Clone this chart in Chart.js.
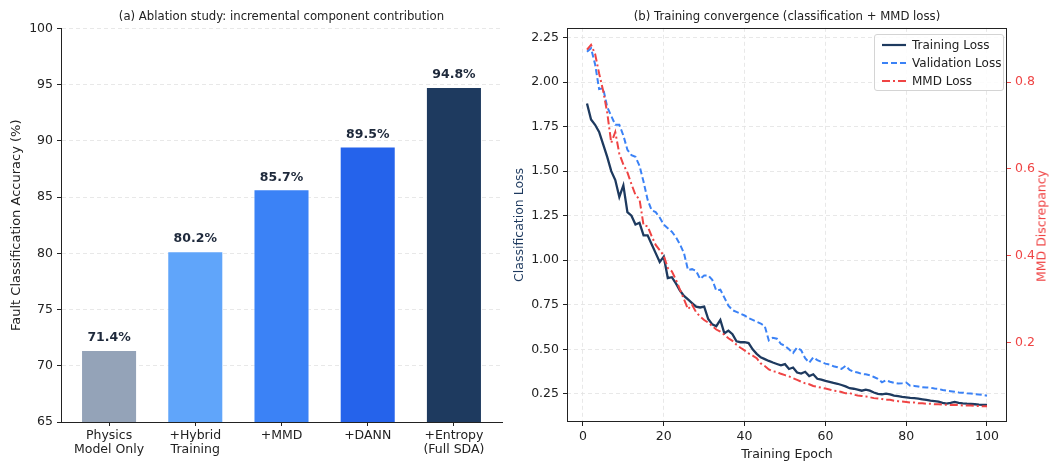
<!DOCTYPE html>
<html>
<head>
<meta charset="utf-8">
<script src="https://cdn.jsdelivr.net/npm/chart.js@4.4.1/dist/chart.umd.min.js"></script>
<style>
  html, body { margin: 0; padding: 0; background: #ffffff; }
  #wrap { position: relative; width: 1052px; height: 462px; overflow: hidden; font-family: 'DejaVu Sans', sans-serif; }
  #c1 { position: absolute; left: 0; top: 0; }
  #c2 { position: absolute; left: 505px; top: 0; }
  #legend { position: absolute; left: 874px; top: 34px; width: 130px; height: 57px; box-sizing: border-box;
            border: 1px solid #d4d4d4; border-radius: 3px; background: rgba(255,255,255,0.85); }
  .item { position: absolute; left: 7px; height: 16px; display: flex; align-items: center; font-size: 12px; color: #222; white-space: nowrap; }
  .item svg { margin-right: 6px; }
  #mmdTitle { position: absolute; left: 1041px; top: 226px; transform: translate(-50%, -50%) rotate(-90deg);
              font-size: 12.5px; color: #ef4444; white-space: nowrap; line-height: 15px; }
</style>
</head>
<body>
<div id="wrap">
  <canvas id="c1" width="505" height="462"></canvas>
  <canvas id="c2" width="547" height="462"></canvas>
  <div id="legend">
    <div class="item" style="top:2px"><svg width="24" height="6"><line x1="0" y1="3" x2="24" y2="3" stroke="#1e3a5f" stroke-width="2.2"/></svg>Training Loss</div>
    <div class="item" style="top:20px"><svg width="24" height="6"><line x1="0" y1="3" x2="24" y2="3" stroke="#3b82f6" stroke-width="2" stroke-dasharray="6,3"/></svg>Validation Loss</div>
    <div class="item" style="top:38px"><svg width="24" height="6"><line x1="0" y1="3" x2="24" y2="3" stroke="#ef4444" stroke-width="2" stroke-dasharray="8,3,2,3"/></svg>MMD Loss</div>
  </div>
  <div id="mmdTitle">MMD Discrepancy</div>
</div>
<script>
// ---------- Data: panel (a) ----------
const ablationLabels = [["Physics", "Model Only"], ["+Hybrid", "Training"], ["+MMD"], ["+DANN"], ["+Entropy", "(Full SDA)"]];
const ablationAccuracy = [71.4, 80.2, 85.7, 89.5, 94.8];
const ablationColors = ["#94a3b8", "#60a5fa", "#3b82f6", "#2563eb", "#1e3a5f"];
const accTicks = [65, 70, 75, 80, 85, 90, 95, 100];

// ---------- Data: panel (b) ----------
const epochs = [1,2,3,4,5,6,7,8,9,10,11,12,13,14,15,16,17,18,19,20,
  21,22,23,24,25,26,27,28,29,30,31,32,33,34,35,36,37,38,39,40,
  41,42,43,44,45,46,47,48,49,50,51,52,53,54,55,56,57,58,59,60,
  61,62,63,64,65,66,67,68,69,70,71,72,73,74,75,76,77,78,79,80,
  81,82,83,84,85,86,87,88,89,90,91,92,93,94,95,96,97,98,99,100];
const trainLoss = [
  1.88,1.79,1.76,1.72,1.65,1.58,1.50,1.45,1.355,1.42,
  1.27,1.25,1.20,1.21,1.14,1.14,1.09,1.04,0.99,1.02,
  0.90,0.905,0.87,0.83,0.80,0.78,0.76,0.74,0.735,0.74,
  0.67,0.64,0.63,0.665,0.59,0.605,0.585,0.545,0.54,0.54,
  0.535,0.50,0.475,0.455,0.445,0.435,0.426,0.418,0.41,0.417,
  0.39,0.398,0.37,0.364,0.374,0.35,0.36,0.335,0.33,0.323,
  0.318,0.312,0.307,0.30,0.292,0.282,0.279,0.274,0.268,0.274,
  0.268,0.258,0.25,0.248,0.252,0.247,0.24,0.237,0.233,0.231,
  0.228,0.226,0.224,0.22,0.216,0.212,0.21,0.207,0.20,0.196,
  0.20,0.205,0.20,0.197,0.195,0.194,0.192,0.19,0.189,0.188];
const valLoss = [
  2.17,2.19,2.10,1.96,1.965,1.86,1.81,1.76,1.76,1.70,
  1.62,1.59,1.58,1.53,1.44,1.34,1.28,1.27,1.24,1.20,
  1.18,1.16,1.13,1.09,1.04,0.945,0.95,0.94,0.895,0.915,
  0.915,0.89,0.83,0.835,0.79,0.745,0.72,0.71,0.70,0.69,
  0.675,0.665,0.655,0.645,0.63,0.55,0.565,0.56,0.53,0.52,
  0.50,0.48,0.51,0.495,0.45,0.425,0.455,0.44,0.43,0.42,
  0.415,0.405,0.40,0.39,0.408,0.385,0.375,0.37,0.362,0.36,
  0.355,0.345,0.335,0.315,0.327,0.318,0.312,0.308,0.31,0.314,
  0.296,0.295,0.292,0.287,0.286,0.285,0.28,0.278,0.272,0.268,
  0.265,0.262,0.258,0.257,0.253,0.252,0.249,0.247,0.244,0.24];
const mmdLoss = [
  0.875,0.886,0.865,0.82,0.78,0.73,0.66,0.685,0.635,0.61,
  0.592,0.565,0.54,0.53,0.47,0.468,0.445,0.425,0.413,0.40,
  0.372,0.364,0.345,0.322,0.30,0.277,0.287,0.27,0.26,0.252,
  0.246,0.238,0.23,0.225,0.218,0.21,0.204,0.195,0.188,0.182,
  0.175,0.17,0.164,0.152,0.146,0.138,0.134,0.132,0.128,0.125,
  0.122,0.118,0.114,0.11,0.106,0.104,0.10,0.098,0.096,0.094,
  0.092,0.089,0.088,0.086,0.083,0.084,0.08,0.078,0.077,0.076,
  0.074,0.072,0.071,0.07,0.068,0.068,0.066,0.065,0.064,0.063,
  0.062,0.062,0.06,0.06,0.059,0.059,0.058,0.058,0.057,0.057,
  0.056,0.057,0.056,0.055,0.055,0.055,0.054,0.054,0.053,0.053];
const epochTicks = [0, 20, 40, 60, 80, 100];
const lossTicks = [0.25, 0.50, 0.75, 1.00, 1.25, 1.50, 1.75, 2.00, 2.25];
const mmdTicks = [0.2, 0.4, 0.6, 0.8];

// ---------- Styling ----------
const FONT = "'DejaVu Sans', sans-serif";
const TXT = '#222222';
const GRIDC = '#e2e2e2';
const MMDC = '#ef4444';
Chart.defaults.font.family = FONT;
Chart.defaults.color = TXT;

function setTicks(vals) { return (scale) => { scale.ticks = vals.map(v => ({ value: v })); }; }

// value labels above bars
const barLabels = {
  id: 'barLabels',
  afterDatasetsDraw(chart) {
    const ctx = chart.ctx;
    const meta = chart.getDatasetMeta(0);
    ctx.save();
    ctx.font = "bold 12.5px " + FONT;
    ctx.fillStyle = '#1e293b';
    ctx.textAlign = 'center';
    ctx.textBaseline = 'middle';
    meta.data.forEach((bar, i) => {
      ctx.fillText(ablationAccuracy[i].toFixed(1) + '%', bar.x, bar.y - 12);
    });
    ctx.restore();
  }
};

// ---------- Panel (a) ----------
new Chart(document.getElementById('c1'), {
  type: 'bar',
  data: {
    datasets: [{
      data: ablationAccuracy.map((v, i) => ({ x: i, y: v })),
      backgroundColor: ablationColors,
      borderColor: 'rgba(255,255,255,0.9)',
      borderWidth: 1,
      barPercentage: 0.65,
      categoryPercentage: 1.0
    }]
  },
  options: {
    responsive: false,
    animation: false,
    layout: { padding: { right: 3 } },
    plugins: {
      legend: { display: false },
      tooltip: { enabled: false },
      title: {
        display: true,
        fullSize: false,
        text: '(a) Ablation study: incremental component contribution',
        font: { size: 11.7, weight: 'normal', family: FONT },
        color: TXT,
        padding: { top: 10, bottom: 4.5 }
      }
    },
    scales: {
      x: {
        type: 'linear',
        min: -0.5575, max: 4.5575,
        offset: false,
        afterBuildTicks: setTicks([0, 1, 2, 3, 4]),
        afterFit: (s) => { s.height = 40; },
        grid: { offset: false, drawOnChartArea: false, drawTicks: true, tickLength: 4, tickColor: TXT, tickWidth: 1, tickBorderDash: [] },
        border: { display: true, color: TXT, width: 1 },
        ticks: {
          autoSkip: false, maxRotation: 0, padding: 3,
          font: { size: 12.5, family: FONT, lineHeight: 1.12 }, color: TXT,
          callback: (v) => ablationLabels[v]
        }
      },
      y: {
        min: 65, max: 100,
        afterBuildTicks: setTicks(accTicks),
        afterFit: (s) => { s.width = 61; },
        grid: { color: GRIDC, lineWidth: 0.8, drawTicks: true, tickLength: 4, tickColor: TXT, tickWidth: 1, tickBorderDash: [] },
        border: { display: true, color: TXT, width: 1, dash: [4, 3] },
        ticks: { padding: 4, font: { size: 12.5, family: FONT }, color: TXT, callback: (v) => String(v) },
        title: {
          display: true, text: 'Fault Classification Accuracy (%)',
          font: { size: 13, family: FONT }, color: TXT, padding: { top: 9, bottom: 0 }
        }
      }
    }
  },
  plugins: [barLabels]
});

// ---------- Panel (b) ----------
const frame = {
  id: 'frame',
  afterDatasetsDraw(chart) {
    const a = chart.chartArea, ctx = chart.ctx;
    ctx.save();
    ctx.strokeStyle = TXT;
    ctx.lineWidth = 1;
    ctx.strokeRect(Math.round(a.left) + 0.5, Math.round(a.top) + 0.5, Math.round(a.right - a.left) - 1, Math.round(a.bottom - a.top) - 1);
    ctx.restore();
  }
};

new Chart(document.getElementById('c2'), {
  type: 'line',
  data: {
    datasets: [
      {
        label: 'Training Loss',
        data: epochs.map((e, i) => ({ x: e, y: trainLoss[i] })),
        borderColor: '#1e3a5f', borderWidth: 2.3, pointRadius: 0, tension: 0,
        yAxisID: 'y', order: 1
      },
      {
        label: 'Validation Loss',
        data: epochs.map((e, i) => ({ x: e, y: valLoss[i] })),
        borderColor: '#3b82f6', borderWidth: 2, borderDash: [6, 3], pointRadius: 0, tension: 0,
        yAxisID: 'y', order: 2
      },
      {
        label: 'MMD Loss',
        data: epochs.map((e, i) => ({ x: e, y: mmdLoss[i] })),
        borderColor: MMDC, borderWidth: 2, borderDash: [8, 3, 2, 3], pointRadius: 0, tension: 0,
        yAxisID: 'y1', order: 0
      }
    ]
  },
  options: {
    responsive: false,
    animation: false,
    plugins: {
      legend: { display: false },
      tooltip: { enabled: false },
      title: {
        display: true,
        fullSize: false,
        text: '(b) Training convergence (classification + MMD loss)',
        font: { size: 11.7, weight: 'normal', family: FONT },
        color: TXT,
        padding: { top: 10, bottom: 3.8 }
      }
    },
    scales: {
      x: {
        type: 'linear',
        min: -3.95, max: 104.95,
        afterBuildTicks: setTicks(epochTicks),
        afterFit: (s) => { s.height = 40; },
        grid: { color: GRIDC, lineWidth: 0.8, drawTicks: true, tickLength: 4, tickColor: TXT, tickWidth: 1, tickBorderDash: [] },
        border: { display: false, dash: [4, 3] },
        ticks: { padding: 3, maxRotation: 0, autoSkip: false, font: { size: 12.5, family: FONT }, color: TXT, callback: (v) => String(v) },
        title: { display: true, text: 'Training Epoch', font: { size: 12.5, family: FONT }, color: TXT, padding: { top: 0, bottom: 0 } }
      },
      y: {
        position: 'left',
        min: 0.0924, max: 2.304,
        afterBuildTicks: setTicks(lossTicks),
        afterFit: (s) => { s.width = 62; },
        grid: { color: GRIDC, lineWidth: 0.8, drawTicks: true, tickLength: 4, tickColor: TXT, tickWidth: 1, tickBorderDash: [] },
        border: { display: false, dash: [4, 3] },
        ticks: { padding: 4, font: { size: 12.5, family: FONT }, color: TXT, callback: (v) => v.toFixed(2) },
        title: { display: true, text: 'Classification Loss', font: { size: 12.5, family: FONT }, color: '#1e3a5f', padding: { top: 7.5, bottom: 0 } }
      },
      y1: {
        position: 'right',
        min: 0.017, max: 0.925,
        afterBuildTicks: setTicks(mmdTicks),
        afterFit: (s) => { s.width = 45; },
        grid: { drawOnChartArea: false, drawTicks: true, tickLength: 4, tickColor: MMDC, tickWidth: 1, tickBorderDash: [] },
        border: { display: false },
        ticks: { padding: 4, font: { size: 12.5, family: FONT }, color: MMDC, callback: (v) => v.toFixed(1) },
        title: { display: false }
      }
    }
  },
  plugins: [frame]
});
</script>
</body>
</html>
